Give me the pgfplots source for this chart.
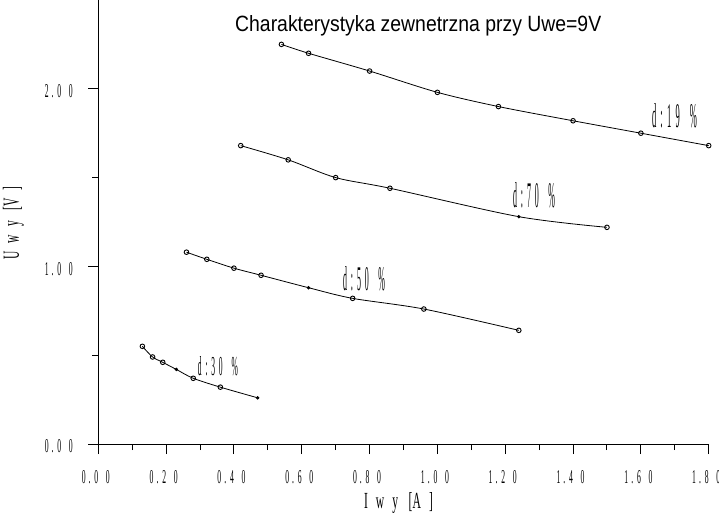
\documentclass[border=0pt]{standalone}
\usepackage{fontspec}
\setmainfont{Liberation Serif}
\setsansfont{Liberation Sans}
\usepackage{graphicx}
\usepackage{pgfplots}
\usepackage{pgfplotstable}
\pgfplotsset{compat=1.18}

\newcommand\tl[3]{\resizebox{28bp}{13bp}{#1\hspace{.4em}.\hspace{.5em}#2\hspace{1em}#3}}
\newcommand\dl[4]{\resizebox{#1}{#2}{d\hspace{.5em}:\hspace{.5em}#3\hspace{.5em}#4\hspace{1.2em}\%}}

\pgfplotstableread{
x y
0.54 2.25
0.62 2.20
0.80 2.10
1.00 1.98
1.18 1.90
1.40 1.82
1.60 1.75
1.80 1.68
}\dnineteen
\pgfplotstableread{
x y
0.42 1.68
0.56 1.60
0.70 1.50
0.86 1.44
1.24 1.28
1.50 1.22
}\dseventy
\pgfplotstableread{
x y
0.26 1.08
0.32 1.04
0.40 0.99
0.48 0.95
0.62 0.88
0.75 0.82
0.96 0.76
1.24 0.64
}\dfifty
\pgfplotstableread{
x y
0.13 0.55
0.16 0.49
0.19 0.46
0.23 0.42
0.28 0.37
0.36 0.32
0.47 0.26
}\dthirty

\begin{document}
\begin{tikzpicture}
\begin{axis}[
  at={(0,0)}, anchor=south west,
  scale only axis, width=610.4bp, height=444bp,
  xmin=0, xmax=1.8, ymin=0, ymax=2.5,
  axis x line=bottom, axis y line=left,
  axis line style={-, line width=1bp, black},
  tick align=outside, major tick length=10bp, minor tick length=6bp,
  tick style={line width=1bp, black},
  xtick={0,0.2,0.4,0.6,0.8,1,1.2,1.4,1.6,1.8},
  minor xtick={0.1,0.3,0.5,0.7,0.9,1.1,1.3,1.5,1.7},
  xticklabels={\tl000,\tl020,\tl040,\tl060,\tl080,\tl100,\tl120,\tl140,\tl160,\tl180},
  ytick={0,1,2,2.5},
  yticklabels={\tl000,\tl100,\tl200,{}},
  minor ytick={0.5,1.5},
  xticklabel style={anchor=north, inner sep=0pt, xshift=-2.5bp, yshift=-16bp},
  yticklabel style={anchor=east, inner sep=0pt, xshift=-15.3bp, yshift=-2.5bp},
  clip=false,
  every axis plot/.append style={black, line width=0.8bp},
]
% d = 19 %
\addplot[smooth, mark=o, mark size=2.3bp, mark options={line width=0.9bp}] table {\dnineteen};
% d = 70 %
\addplot[smooth, mark=o, mark size=2.3bp, mark indices={1,2,3,4,6}, mark options={line width=0.9bp}] table {\dseventy};
\addplot[only marks, mark=*, mark size=1.3bp, mark indices={5}] table {\dseventy};
% d = 50 %
\addplot[smooth, mark=o, mark size=2.3bp, mark indices={1,2,3,4,6,7,8}, mark options={line width=0.9bp}] table {\dfifty};
\addplot[only marks, mark=*, mark size=1.3bp, mark indices={5}] table {\dfifty};
% d = 30 %
\addplot[smooth, mark=o, mark size=2.3bp, mark indices={1,2,3,5,6}, mark options={line width=0.9bp}] table {\dthirty};
\addplot[only marks, mark=*, mark size=1.3bp, mark indices={4,7}] table {\dthirty};
\end{axis}
% title
\node[anchor=base west, inner sep=0pt] at (136.7bp,412.5bp)
  {\resizebox{366bp}{16bp}{\sffamily Charakterystyka zewnetrzna przy Uwe=9V}};
% curve labels
\node[inner sep=0pt] at (576.2bp,328bp) {\dl{45bp}{24bp}19};
\node[inner sep=0pt] at (435.7bp,248.5bp) {\dl{42bp}{25bp}70};
\node[inner sep=0pt] at (265.7bp,165bp) {\dl{42bp}{24bp}50};
\node[inner sep=0pt] at (119.7bp,78bp) {\dl{40bp}{19bp}30};
% axis labels
\node[anchor=base, inner sep=0pt] at (300.2bp,-64bp)
  {\resizebox{69bp}{16bp}{I\hspace{.7em}w\hspace{.7em}y\hspace{.9em}[A\hspace{.7em}]}};
\node[anchor=base, inner sep=0pt, rotate=90] at (-79.3bp,221bp)
  {\resizebox{73bp}{16bp}{U\hspace{.7em}w\hspace{.7em}y\hspace{.9em}[V\hspace{.7em}]}};
\pgfresetboundingbox
\path[use as bounding box] (-98.3bp,-71bp) rectangle (620.7bp,444bp);
\end{tikzpicture}
\end{document}
